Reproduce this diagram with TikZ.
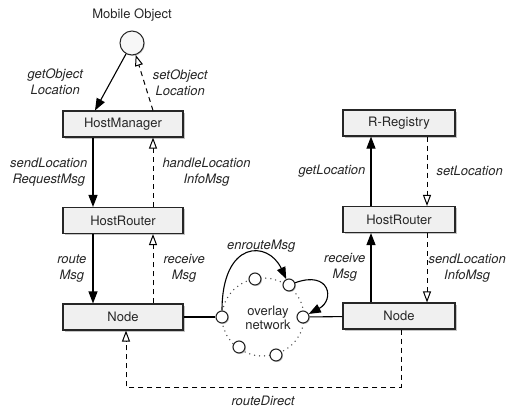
\documentclass[tikz,border=0pt]{standalone}
\usepackage{fontspec}
\setmainfont{TeX Gyre Heros}
\usetikzlibrary{arrows.meta,shadows,positioning}

\begin{document}
\begin{tikzpicture}[->,>={Triangle[length=12pt,width=9pt]},x=1pt,y=-1pt,line width=1.1pt,node distance=96.5pt,font=\fontsize{13}{16}\selectfont]
	\useasboundingbox (0,0) rectangle (511,413);
	\tikzstyle{box}=[draw=black!85,fill=gray!12,line width=1.1pt,minimum width=120pt,minimum height=26pt,inner sep=0pt,text=black!85,drop shadow={shadow xshift=1.5pt,shadow yshift=-1.5pt,fill=black!45}]
	\tikzstyle{hub}=[circle,draw=black!85,fill=white,line width=1.1pt,minimum size=12pt,inner sep=0pt,drop shadow={shadow xshift=1pt,shadow yshift=-1pt,fill=black!40}]
	\tikzstyle{msg}=[font=\fontsize{13}{16}\selectfont\itshape,align=center,inner sep=1pt,text=black!85]
	\tikzstyle{ret}=[dash pattern=on 5pt off 4pt,line width=1pt,-{Triangle[open,length=11pt,width=8pt,fill=white]}]
	% left column
	\node[circle,draw=black!85,fill=gray!6,line width=1pt,minimum size=24pt,drop shadow={shadow xshift=1pt,shadow yshift=-1pt,fill=black!35}] (mo) at (132,43) {};
	\node[text=black!85] (mol) [above of=mo, node distance=28pt] {Mobile Object};
	\node[box] (hm) at (123,124) {HostManager};
	\node[box] (hr) [below of=hm] {HostRouter};
	\node[box] (lnode) [below of=hr] {Node};
	% right column
	\node[box,minimum width=112pt] (reg) at (399,123) {R-Registry};
	\node[box,minimum width=112pt] (rh) [below of=reg] {HostRouter};
	\node[box,minimum width=112pt] (rnode) [below of=rh] {Node};
	% overlay network
	\draw[-,black!70,dash pattern=on 0pt off 5pt,line cap=round,line width=1.5pt] (263,317) ellipse [x radius=41pt,y radius=39pt];
	\foreach \n/\x/\y in {o1/222/317,o2/255/279,o3/289/285,o4/303/317,o5/239/347,o6/276/355}
		\node[hub] (\n) at (\x,\y) {};
	\node[align=center,text=black!85,font=\fontsize{13}{14}\selectfont] (ovl) at (268,318) {overlay\\network};
	\draw[-] (lnode) -- (o1);
	\draw[-] (rnode) -- (o4);
	\draw (o1) .. controls (222,240) and (268,240) .. node[msg,above,xshift=14pt] {enrouteMsg} (o3);
	\draw (o3) .. controls (330,270) and (335,300) .. (o4);
	% messages
	\path (mo) edge node[msg,left=26pt] {getObject\\Location} ([xshift=-28pt]hm.north);
	\path ([xshift=30pt]hm.north) edge[ret] node[msg,right=7pt] {setObject\\Location} (mo);
	\path ([xshift=-30pt]hm.south) edge node[msg,left=4pt] {sendLocation\\RequestMsg} ([xshift=-30pt]hr.north);
	\path ([xshift=30pt]hr.north) edge[ret] node[msg,right=8pt] {handleLocation\\InfoMsg} ([xshift=30pt]hm.south);
	\path ([xshift=-30pt]hr.south) edge node[msg,left=5pt] {route\\Msg} ([xshift=-30pt]lnode.north);
	\path ([xshift=30pt]lnode.north) edge[ret] node[msg,right=9pt] {receive\\Msg} ([xshift=30pt]hr.south);
	\path ([xshift=-28pt]rh.north) edge node[msg,left=4pt] {getLocation} ([xshift=-28pt]reg.south);
	\path ([xshift=28pt]reg.south) edge[ret] node[msg,right=8pt] {setLocation} ([xshift=28pt]rh.north);
	\path ([xshift=-28pt]rnode.north) edge node[msg,left=4pt] {receive\\Msg} ([xshift=-28pt]rh.south);
	\path ([xshift=28pt]rh.south) edge[ret] node[msg,right=0pt] {sendLocation\\InfoMsg} ([xshift=28pt]rnode.north);
	\coordinate (rd) at (263,387);
	\draw[ret] ([xshift=2pt]rnode.south) |- (rd) node[msg,below=8pt] {routeDirect} -| ([xshift=3pt]lnode.south);
\end{tikzpicture}
\end{document}
